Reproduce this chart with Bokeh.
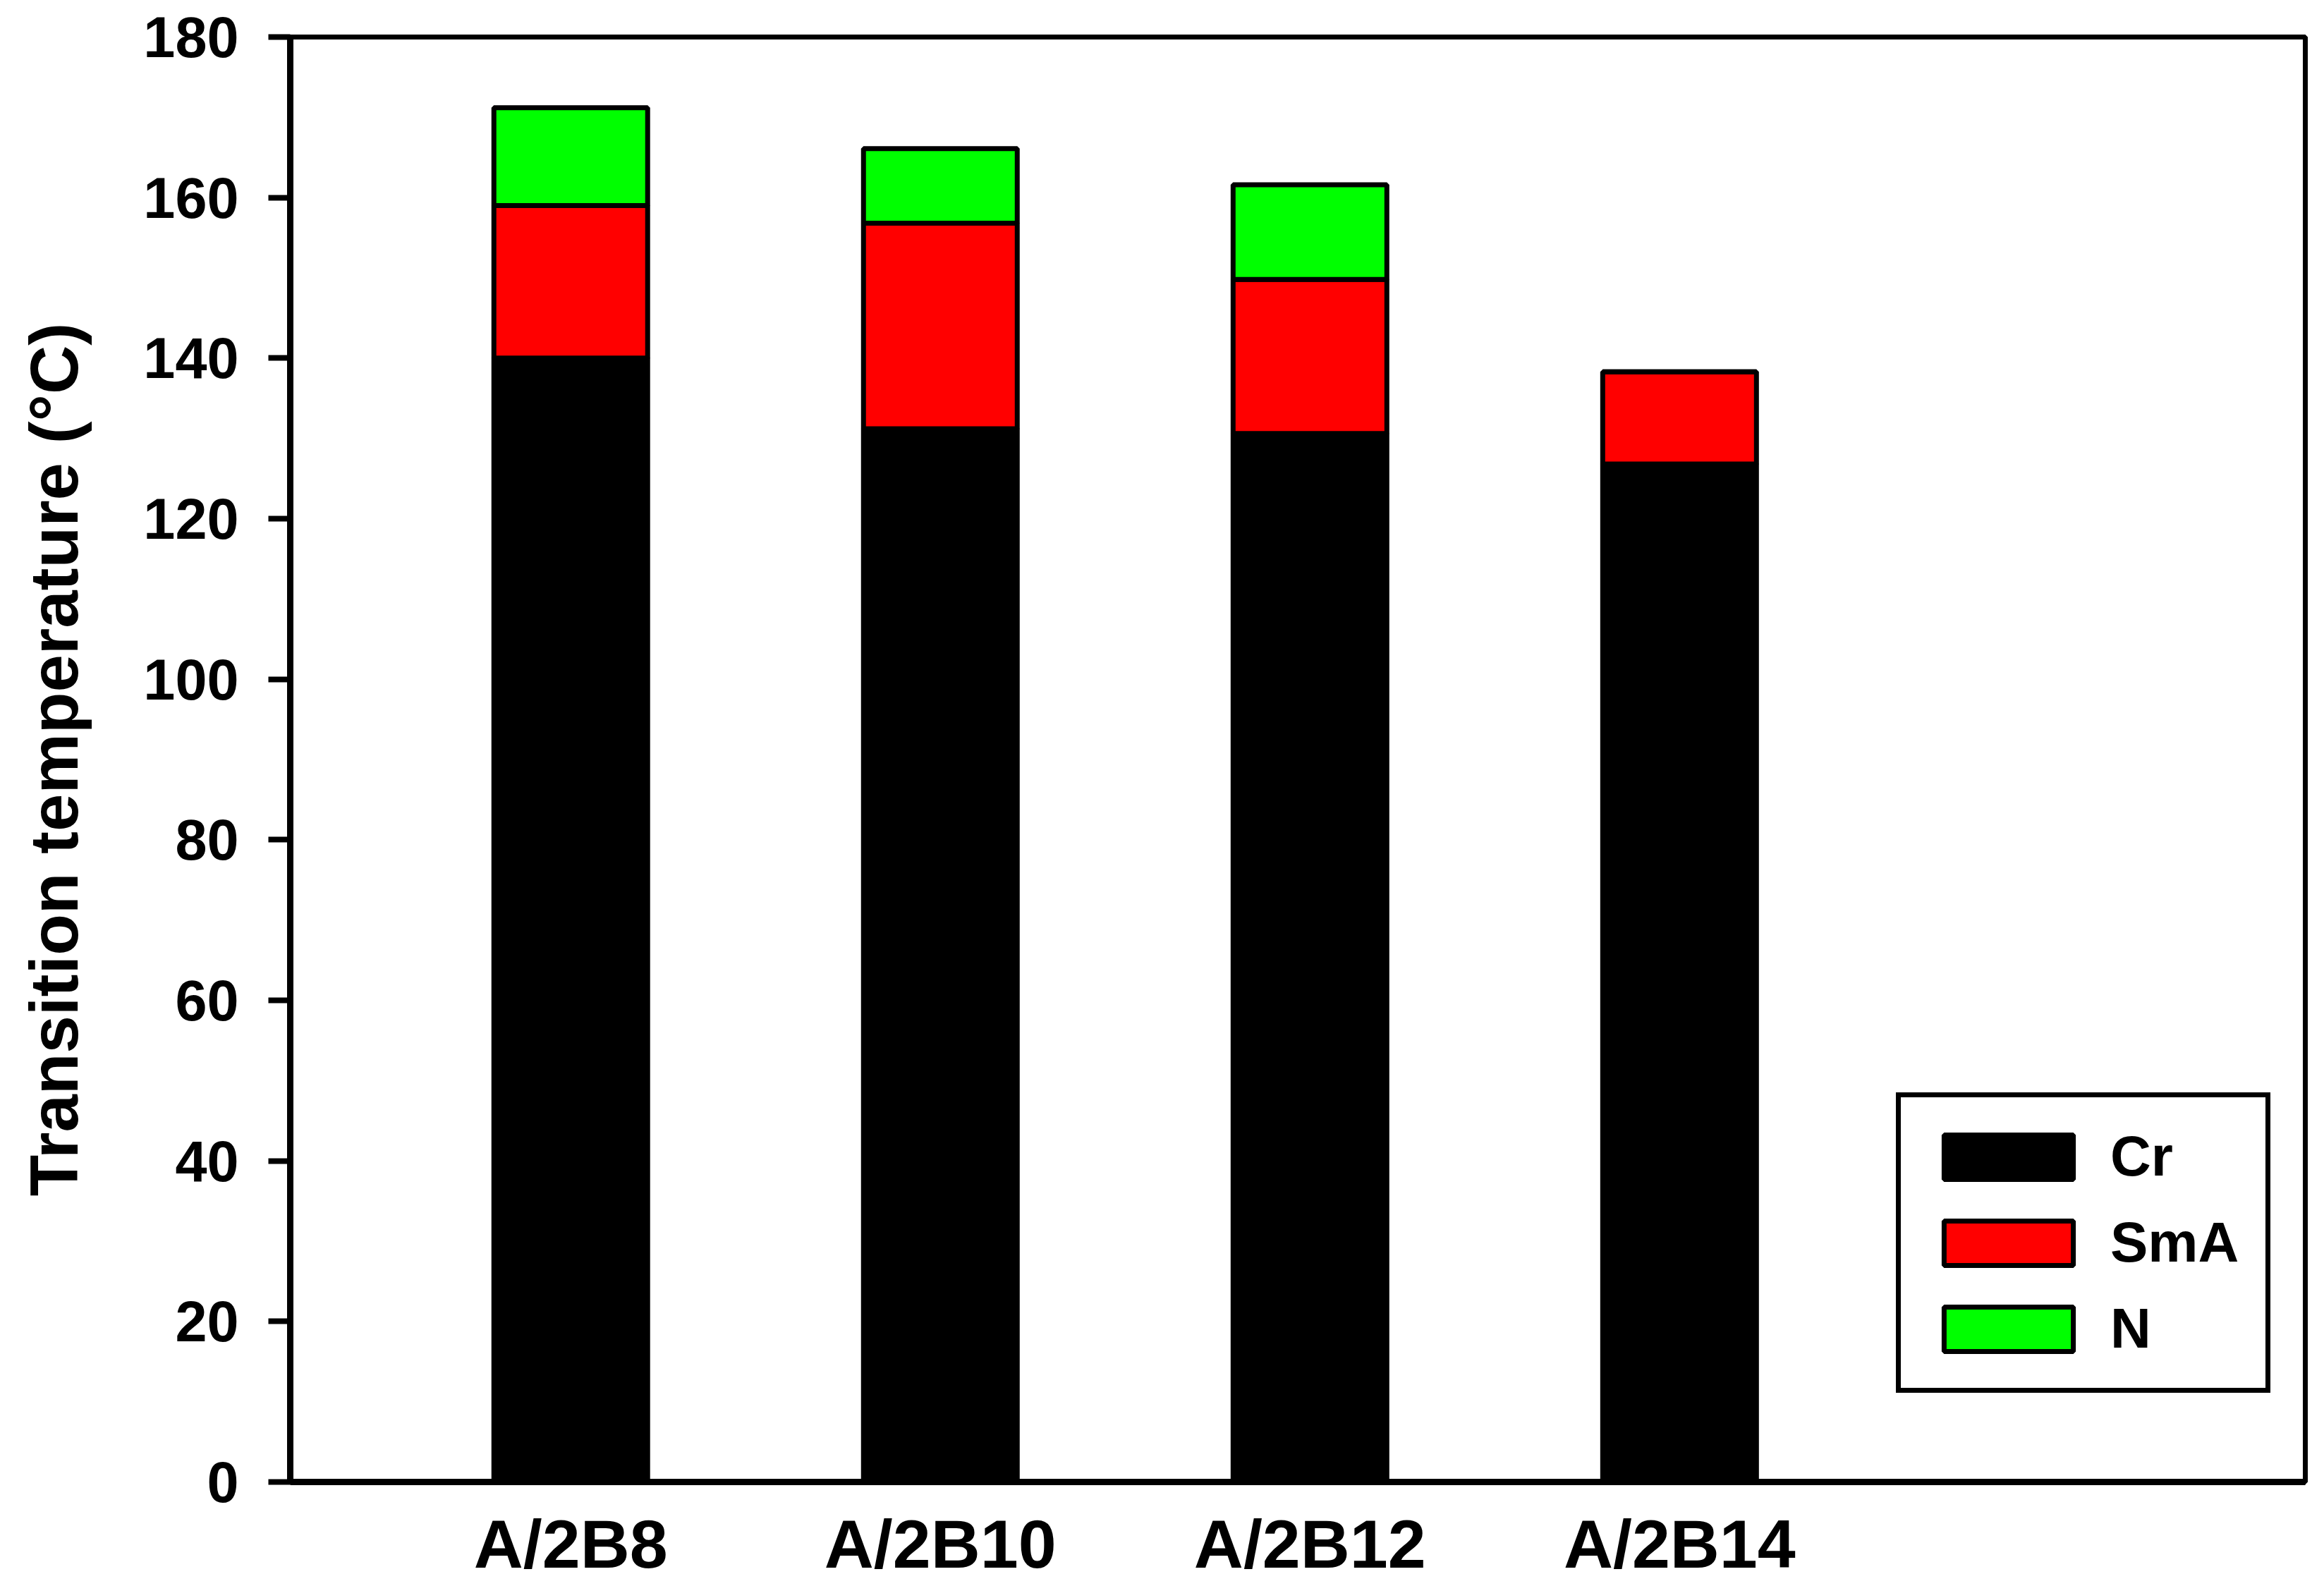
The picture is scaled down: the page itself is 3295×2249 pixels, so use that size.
from bokeh.plotting import figure
from bokeh.models import ColumnDataSource, Range1d, FixedTicker, Legend, LegendItem
from bokeh.embed import file_html
from bokeh.resources import INLINE

# ---- data ----
categories = ["A/2B8", "A/2B10", "A/2B12", "A/2B14"]
phases = ["Cr", "SmA", "N"]
cr = [140.0, 131.2, 130.6, 126.8]
sma = [19.0, 25.6, 19.2, 11.5]
nem = [12.2, 9.3, 11.8, 0.0]
y_ticks = [0, 20, 40, 60, 80, 100, 120, 140, 160, 180]
colors = ["#000000", "#ff0000", "#00ff00"]

xs = list(range(1, len(categories) + 1))
src = ColumnDataSource(dict(x=xs, Cr=cr, SmA=sma, N=nem))

W, H = 3295, 2249
p = figure(width=W, height=H, output_backend="svg", toolbar_location=None,
           x_range=Range1d(0.241, 5.693), y_range=Range1d(0, 180),
           min_border_left=411, min_border_right=27, min_border_top=52, min_border_bottom=148)
p.background_fill_color = "white"
p.border_fill_color = "white"
p.xgrid.visible = False
p.ygrid.visible = False
p.outline_line_color = "black"
p.outline_line_width = 7
p.outline_line_alpha = 1

renderers = p.vbar_stack(phases, x="x", width=0.416, source=src, color=colors,
                         line_color="black", line_width=7)

FONT = "Liberation Sans"
# y axis
ya = p.yaxis[0]
ya.ticker = FixedTicker(ticks=y_ticks)
ya.axis_label = "Transition temperature (°C)"
ya.axis_label_text_font = FONT
ya.axis_label_text_font_style = "bold"
ya.axis_label_text_font_size = "96px"
ya.axis_label_text_color = "black"
ya.axis_label_standoff = 70
ya.major_label_text_font = FONT
ya.major_label_text_font_style = "bold"
ya.major_label_text_font_size = "81px"
ya.major_label_text_color = "black"
ya.major_label_standoff = 42
ya.major_tick_out = 31
ya.major_tick_in = 0
ya.major_tick_line_width = 8
ya.major_tick_line_color = "black"
ya.minor_tick_line_color = None
ya.axis_line_width = 9
ya.axis_line_color = "black"

# x axis
xa = p.xaxis[0]
xa.ticker = FixedTicker(ticks=xs)
xa.major_label_overrides = {x: c for x, c in zip(xs, categories)}
xa.major_label_text_font = FONT
xa.major_label_text_font_style = "bold"
xa.major_label_text_font_size = "97px"
xa.major_label_text_color = "black"
xa.major_label_standoff = 33
xa.major_tick_out = 0
xa.major_tick_in = 0
xa.minor_tick_line_color = None
xa.axis_line_width = 9
xa.axis_line_color = "black"

legend = Legend(items=[LegendItem(label=ph, renderers=[r]) for ph, r in zip(phases, renderers)],
                location=(2277, 126))
legend.glyph_width = 229
legend.glyph_height = 79
legend.label_standoff = 30
legend.spacing = 30
legend.padding = 38
legend.label_text_font = FONT
legend.label_text_font_style = "bold"
legend.label_text_font_size = "80px"
legend.label_text_color = "black"
legend.border_line_color = "black"
legend.border_line_width = 7
legend.border_line_alpha = 1
legend.background_fill_color = "white"
legend.background_fill_alpha = 1
p.add_layout(legend, "center")

open("out.html", "w").write(file_html(p, INLINE))
